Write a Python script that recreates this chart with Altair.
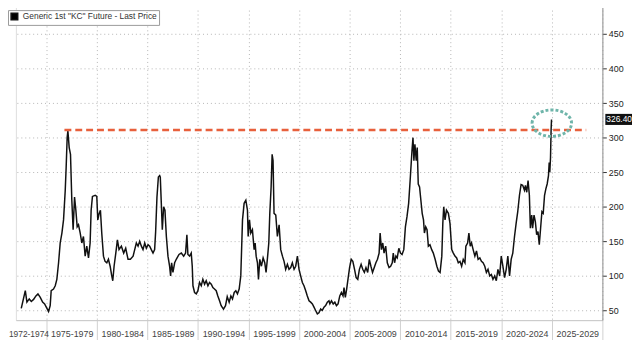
import altair as alt
import pandas as pd

# ---- data ----
years = [1972.53, 1972.93, 1973.09, 1973.32, 1973.52, 1973.75, 1973.98, 1974.18, 1974.41, 1974.64,
         1974.84, 1975.07, 1975.23, 1975.39, 1975.49, 1975.72, 1975.89, 1976.05, 1976.22, 1976.38,
         1976.55, 1976.71, 1976.88, 1976.97, 1977.07, 1977.14, 1977.27, 1977.40, 1977.53, 1977.66,
         1977.80, 1977.93, 1978.06, 1978.19, 1978.36, 1978.52, 1978.68, 1978.85, 1979.01, 1979.18,
         1979.34, 1979.44, 1979.57, 1979.84, 1980.00, 1980.10, 1980.23, 1980.36, 1980.49, 1980.66,
         1980.82, 1980.99, 1981.15, 1981.32, 1981.48, 1981.58, 1981.71, 1981.88, 1982.04, 1982.20,
         1982.43, 1982.66, 1982.86, 1983.09, 1983.32, 1983.59, 1983.75, 1983.91, 1984.08, 1984.24,
         1984.41, 1984.57, 1984.74, 1984.90, 1985.07, 1985.23, 1985.39, 1985.56, 1985.72, 1985.82,
         1985.95, 1986.09, 1986.22, 1986.28, 1986.38, 1986.48, 1986.61, 1986.74, 1986.88, 1987.04,
         1987.20, 1987.30, 1987.40, 1987.53, 1987.70, 1987.86, 1988.13, 1988.36, 1988.59, 1988.78,
         1988.91, 1989.01, 1989.18, 1989.34, 1989.44, 1989.51, 1989.67, 1989.84, 1990.00, 1990.16,
         1990.33, 1990.49, 1990.66, 1990.82, 1990.99, 1991.15, 1991.32, 1991.48, 1991.64, 1991.81,
         1991.97, 1992.14, 1992.30, 1992.53, 1992.73, 1992.90, 1993.09, 1993.26, 1993.42, 1993.59,
         1993.75, 1993.91, 1994.08, 1994.24, 1994.41, 1994.57, 1994.74, 1994.90, 1994.97, 1995.10,
         1995.23, 1995.39, 1995.56, 1995.66, 1995.76, 1995.89, 1995.99, 1996.12, 1996.28, 1996.45,
         1996.61, 1996.74, 1996.88, 1997.01, 1997.11, 1997.24, 1997.34, 1997.43, 1997.53, 1997.70,
         1997.86, 1998.03, 1998.19, 1998.36, 1998.52, 1998.68, 1998.85, 1999.01, 1999.18, 1999.34,
         1999.51, 1999.67, 1999.84, 2000.00, 2000.16, 2000.33, 2000.49, 2000.66, 2000.82, 2000.99,
         2001.15, 2001.32, 2001.48, 2001.64, 2001.81, 2001.97, 2002.14, 2002.30, 2002.47, 2002.63,
         2002.80, 2002.96, 2003.05, 2003.21, 2003.38, 2003.54, 2003.70, 2003.86, 2004.03, 2004.19,
         2004.35, 2004.45, 2004.58, 2004.71, 2004.84, 2005.00, 2005.16, 2005.32, 2005.49, 2005.65,
         2005.81, 2005.97, 2006.14, 2006.30, 2006.46, 2006.62, 2006.79, 2006.95, 2007.11, 2007.27,
         2007.44, 2007.60, 2007.76, 2007.92, 2008.02, 2008.15, 2008.28, 2008.41, 2008.57, 2008.73,
         2008.90, 2009.06, 2009.22, 2009.32, 2009.45, 2009.58, 2009.71, 2009.87, 2010.03, 2010.19,
         2010.36, 2010.52, 2010.68, 2010.84, 2011.01, 2011.17, 2011.27, 2011.36, 2011.46, 2011.59,
         2011.69, 2011.79, 2011.92, 2012.05, 2012.18, 2012.31, 2012.40, 2012.53, 2012.66, 2012.79,
         2012.95, 2013.12, 2013.28, 2013.46, 2013.63, 2013.79, 2013.95, 2014.12, 2014.22, 2014.31,
         2014.44, 2014.58, 2014.77, 2014.93, 2015.10, 2015.26, 2015.42, 2015.59, 2015.75, 2015.92,
         2016.08, 2016.24, 2016.41, 2016.50, 2016.67, 2016.80, 2016.93, 2017.06, 2017.22, 2017.39,
         2017.55, 2017.71, 2017.88, 2018.04, 2018.20, 2018.37, 2018.53, 2018.69, 2018.86, 2019.02,
         2019.18, 2019.35, 2019.51, 2019.67, 2019.84, 2020.00, 2020.16, 2020.33, 2020.49, 2020.65,
         2020.82, 2020.98, 2021.14, 2021.31, 2021.47, 2021.63, 2021.80, 2021.96, 2022.12, 2022.29,
         2022.39, 2022.52, 2022.65, 2022.78, 2022.88, 2023.01, 2023.10, 2023.24, 2023.37, 2023.50,
         2023.63, 2023.76, 2023.89, 2024.02, 2024.15, 2024.28, 2024.41, 2024.54, 2024.67, 2024.74,
         2024.80, 2024.87, 2024.93, 2024.97]

prices = [53, 78.6, 62, 66.7, 63, 66, 71, 74, 69, 62,
          59.5, 53, 48.6, 57, 78.6, 81, 85.7, 95, 119, 147.6,
          162, 181, 224, 257, 300, 310, 285.7, 276, 209.5, 166.7,
          214, 195, 171, 174, 162, 147.6, 157, 128.6, 143, 126,
          147.6, 195, 215, 216.7, 215, 181, 190, 195, 162, 128.6,
          121, 119, 124, 114, 100, 93, 114, 133, 152, 138,
          143, 133, 140, 124, 124, 128.6, 138, 147.6, 143, 150,
          143, 138, 147.6, 140, 145, 143, 138, 133, 138, 164,
          214, 243, 245, 243, 205, 166.7, 200, 195, 157, 128.6,
          114, 100, 119, 105, 119, 124, 131, 133, 128.6, 133,
          159.5, 131, 128.6, 133, 114, 85.7, 76, 74, 78.6, 90.5,
          85.7, 95, 88, 93, 85.7, 90.5, 88, 83, 81, 78.6,
          71, 64, 57, 52, 57, 70, 62, 71, 66.7, 76,
          78.6, 74, 81, 100, 181, 205, 209.5, 195, 157, 181,
          162, 166.7, 138, 147.6, 128.6, 119, 95, 124, 114, 126,
          119, 105, 126, 147.6, 190.5, 228.6, 276, 266.7, 190.5, 188,
          157, 174, 138, 128.6, 121, 109.5, 116.7, 109.5, 112, 119,
          109.5, 114, 128.6, 109.5, 100, 90.5, 85.7, 78.6, 71, 64,
          62, 59.5, 54.8, 50, 45, 46.7, 52, 50, 54.8, 57,
          62, 64, 59.5, 64, 59.5, 62, 57, 59.5, 71, 76,
          71, 83, 69, 81, 95, 112, 124, 121, 109.5, 97.6,
          95, 109.5, 116.7, 109.5, 105, 112, 105, 124, 114, 105,
          112, 119, 124, 133, 162, 138, 147.6, 133, 143, 119,
          112, 114, 119, 133, 119, 128.6, 126, 140, 133, 131,
          138, 171, 186, 205, 243, 281, 300, 266.7, 290.5, 266.7,
          285.7, 233, 228.6, 209.5, 190.5, 181, 162, 171, 166.7, 143,
          145, 138, 133, 124, 114, 107, 105, 128.6, 176, 200,
          181, 195, 190.5, 176, 138, 133, 128.6, 126, 119, 121,
          114, 124, 119, 143, 147.6, 162, 143, 147.6, 138, 128.6,
          136, 124, 126, 121, 119, 114, 105, 109.5, 100, 102,
          95, 100, 93, 109.5, 100, 128.6, 114, 97.6, 109.5, 128.6,
          100, 124, 133, 157, 176, 193, 216.7, 232, 231, 224,
          231, 221, 238, 216.7, 169, 188, 169, 188, 178.6, 159.5,
          164, 145, 169, 193, 190.5, 216.7, 226, 233, 245, 264,
          250, 271, 312, 326.4]

series_name = 'Generic 1st "KC" Future - Last Price'
x_domain = [1972, 2030]
y_domain = [36, 496]
y_ticks = [50, 100, 150, 200, 250, 300, 350, 400, 450]
x_bounds = [1975, 1980, 1985, 1990, 1995, 2000, 2005, 2010, 2015, 2020, 2025, 2030]

ref_level = [311]
ref_start = [1976.8]
ref_end = [2028.4]

circle_year = [2025.0]
circle_price = [321]

last_price = [326.4]
last_label = ["326.40"]

FONT = "Liberation Sans"

df = pd.DataFrame({"year": years, "price": prices, "series": series_name})
ref_df = pd.DataFrame({"year": ref_start, "end": ref_end, "price": ref_level})
circ_df = pd.DataFrame({"year": circle_year, "price": circle_price})
tag_df = pd.DataFrame({"price": last_price, "label": last_label})

xs = alt.Scale(domain=x_domain, nice=False, zero=False)
ys = alt.Scale(domain=y_domain, nice=False, zero=False)

W, H = 594, 322

x_axis = alt.Axis(
    values=x_bounds,
    labelExpr="datum.value == 1975 ? '1972-1974' : (datum.value - 5) + '-' + (datum.value - 1)",
    labelOffset={"condition": {"test": "datum.value == 1975", "value": -18}, "value": -25.4},
    labelFontSize={"condition": {"test": "datum.value == 1975", "value": 8.5}, "value": 9},
    labelOverlap=False, labelFlush=False,
    grid=True, gridDash=[1, 3], gridColor="#b5b5b5", gridWidth=1,
    tickSize=25, tickColor="#d0d0d0", labelPadding=-15.5,
    domainColor="#c8c8c8", labelFont=FONT, labelColor="#444",
    title=None)
y_axis = alt.Axis(
    orient="right", values=y_ticks, grid=True, gridDash=[1, 3],
    gridColor="#b5b5b5", domainColor="#999", tickColor="#333", tickSize=4,
    labelFontSize=9, labelFont=FONT, labelColor="#222", labelPadding=2,
    title=None)

base_x = alt.X("year:Q", scale=xs, axis=x_axis)
base_y = alt.Y("price:Q", scale=ys, axis=y_axis)

line = alt.Chart(df).mark_line(strokeWidth=1.5, clip=True).encode(
    x=base_x,
    y=base_y,
    color=alt.Color("series:N", scale=alt.Scale(range=["#111111"]), legend=alt.Legend(
        title=None, orient="none", legendX=-8, legendY=8, padding=2,
        strokeColor="#999", fillColor="white", symbolType="square",
        symbolFillColor="#000", symbolStrokeColor="#000", symbolSize=45,
        labelFontSize=8.5, labelFont=FONT, labelColor="#333")),
)

ref = alt.Chart(ref_df).mark_rule(color="#e8603c", strokeWidth=2.5, strokeDash=[7, 4]).encode(
    x=base_x,
    x2="end:Q",
    y=base_y,
)

ellipse_path = "M -1 0 A 1 0.67 0 1 1 1 0 A 1 0.67 0 1 1 -1 0 Z"
circ = alt.Chart(circ_df).mark_point(
    shape=ellipse_path, size=1600, filled=False, stroke="#6fb5aa",
    strokeWidth=3, strokeDash=[3, 2], opacity=1).encode(
    x=base_x,
    y=base_y,
)

box_path = "M -1 -0.4 L 1 -0.4 L 1 0.4 L -1 0.4 Z"
tag_box = alt.Chart(tag_df).mark_point(
    shape=box_path, size=784, filled=True, color="#111", opacity=1, clip=False).encode(
    x=alt.value(W + 17),
    y=base_y,
)
tag_text = alt.Chart(tag_df).mark_text(
    color="white", fontSize=8.5, font=FONT, align="left", baseline="middle", clip=False).encode(
    x=alt.value(W + 4),
    y=base_y,
    text="label:N",
)

chart = alt.layer(line, ref, circ, tag_box, tag_text).properties(
    width=W, height=H,
    autosize=alt.AutoSizeParams(type="none"),
    padding={"left": 8, "top": -8, "right": 30, "bottom": 18},
).configure_view(strokeWidth=0).configure(background="white")

chart.save("out.html", embed_options={"renderer": "svg", "actions": False})
